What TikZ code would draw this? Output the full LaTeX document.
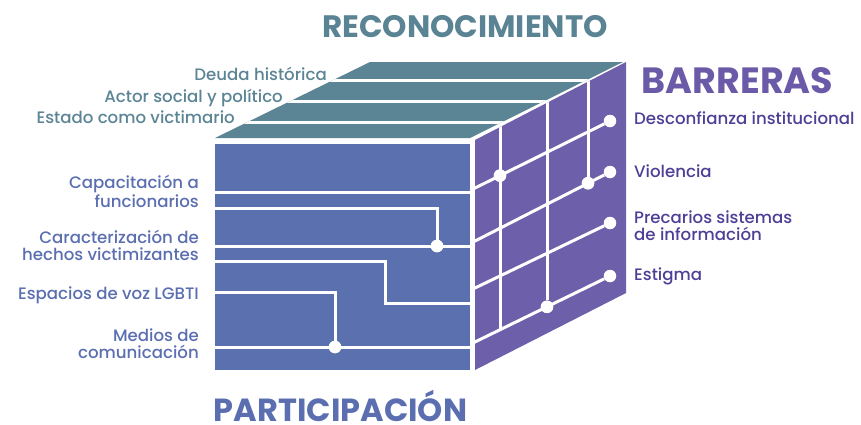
\documentclass[tikz,border=0pt]{standalone}
\usepackage{fontspec}
\setmainfont{Poppins}[UprightFont={* Medium}, BoldFont={* Bold}]
\definecolor{topc}{HTML}{5B8494}
\definecolor{frontc}{HTML}{5B71AF}
\definecolor{rightc}{HTML}{6D5FA9}
\definecolor{rlab}{HTML}{4E3E96}
\definecolor{ttltop}{HTML}{5A8393}
\definecolor{ttlright}{HTML}{6A5AA8}
\definecolor{ttlfront}{HTML}{5A6EB0}
\begin{document}
\begin{tikzpicture}[x=1pt,y=-1pt,
  wl/.style={white, line width=3pt},
  dot/.style={circle, fill=white, inner sep=0pt, minimum size=12.5pt},
  lab/.style={font=\fontsize{16.6}{16.5}\selectfont, inner sep=0pt},
  toplab/.style={lab, text=topc, anchor=base east},
  leftlab/.style={lab, text=ttlfront, anchor=base east, align=right},
  rightlab/.style={lab, text=rlab, anchor=base west, align=left},
  ttl/.style={font=\fontsize{31}{31}\selectfont\bfseries, inner sep=0pt, anchor=base, text depth=0pt}]
\useasboundingbox (0,0) rectangle (861,424);
% faces
\fill[topc] (215,138) -- (470,138) -- (623,62) -- (370,62) -- cycle;
\fill[frontc] (215,144) rectangle (470,370);
\fill[rightc] (475,140) -- (626,62) -- (626,293) -- (475,370) -- cycle;
% top strips
\begin{scope}
\clip (215,138) -- (470,138) -- (623,62) -- (370,62) -- cycle;
\foreach \y in {80,101.5,122} \draw[wl] (200,\y) -- (640,\y);
\end{scope}
% right face dots
\node[dot] (r1) at (610,121) {};
\node[dot] (r2) at (610,172) {};
\node[dot] (r3) at (610,223) {};
\node[dot] (r4) at (610,276) {};
\node[dot] (x1) at (500,175.6) {};
\node[dot] (x2) at (588,183.2) {};
\node[dot] (x3) at (547,306.8) {};
\coordinate (s1) at (470,190.5);
\coordinate (s2) at (470,243.6);
\coordinate (s3) at (470,290.4);
\coordinate (s4) at (470,344.4);
\coordinate (v1) at (500,40);
\coordinate (v2) at (547,40);
\coordinate (v3) at (588,40);
\coordinate (vb) at (500,329.8);
\begin{scope}
\clip (475,140) -- (626,62) -- (626,293) -- (475,370) -- cycle;
\draw[wl] (s1) -- (r1);
\draw[wl] (s2) -- (r2);
\draw[wl] (s3) -- (r3);
\draw[wl] (s4) -- (r4);
\draw[wl] (v1) -- (vb);
\draw[wl] (v2) -- (x3);
\draw[wl] (v3) -- (x2);
\end{scope}
\node[dot] at (x1) {};
\node[dot] at (x2) {};
\node[dot] at (x3) {};
% front face lines
\node[dot] (f1) at (437,246) {};
\node[dot] (f2) at (335,347) {};
\draw[wl] (215,192) -- (470,192);
\draw[wl] (215,208) -| (f1);
\draw[wl] (215,246) -- (470,246);
\draw[wl] (215,261) -- (385,261) -- (385,303) -- (470,303);
\draw[wl] (215,292) -| (f2);
\draw[wl] (215,347) -- (470,347);
\node[dot] at (f1) {};
\node[dot] at (f2) {};
% labels
\node[toplab] (t1) at (327,80) {Deuda histórica};
\node[toplab] (t2) at (283,102) {Actor social y político};
\node[toplab] (t3) at (235,123) {Estado como victimario};
\node[leftlab] (l1) at (199,207) {Capacitación a\\funcionarios};
\node[leftlab] (l2) at (199,260) {Caracterización de\\hechos victimizantes};
\node[leftlab] (l3) at (199,299) {Espacios de voz LGBTI};
\node[leftlab] (l4) at (199,358) {Medios de\\comunicación};
\node[rightlab] (b1) at (634,124) {Desconfianza institucional};
\node[rightlab] (b2) at (634,177) {Violencia};
\node[rightlab] (b3) at (634,240) {Precarios sistemas\\de información};
\node[rightlab] (b4) at (634,280) {Estigma};
% titles
\node[ttl, text=ttltop] (tt) at (465,37) {RECONOCIMIENTO};
\node[ttl, text=ttlright, font=\fontsize{36.5}{36.5}\selectfont\bfseries] (tr) at (737.5,93) {BARRERAS};
\node[ttl, text=ttlfront, font=\fontsize{32}{32}\selectfont\bfseries] (tf) at (340.5,421) {PARTICIPACIÓN};
\end{tikzpicture}
\end{document}
